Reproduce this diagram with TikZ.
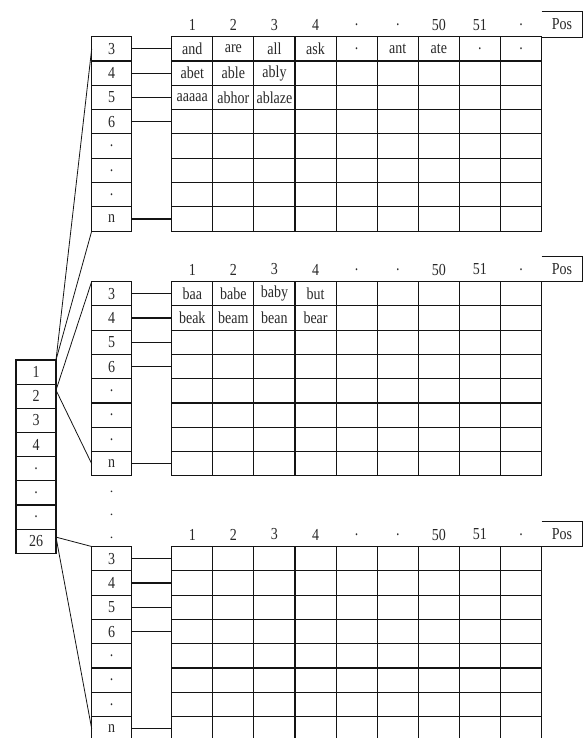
\documentclass[tikz,border=0pt]{standalone}
\usepackage{fontspec}
\setmainfont{Liberation Serif}
\usepackage{graphicx}
\usetikzlibrary{positioning,calc}
\definecolor{gridline}{RGB}{20,20,20}
\definecolor{celltext}{RGB}{40,40,40}
\newcommand{\tallword}[1]{\scalebox{1}[1.2]{#1}}

\tikzset{
  cell/.style={draw=gridline, line width=1.1pt, minimum height=24.3pt,
    inner sep=0pt, outer sep=0pt, text=celltext, anchor=north west,
    font=\fontsize{14}{14}\selectfont},
  idx/.style={cell, minimum width=40pt},
  wordcell/.style={cell, minimum width=41.1pt},
  head/.style={text=celltext, inner sep=0pt, font=\fontsize{14}{14}\selectfont},
  posbox/.style={head, minimum width=40pt, minimum height=25pt, anchor=north west},
  link/.style={draw=gridline, line width=1.1pt},
  fan/.style={draw=gridline, line width=0.8pt}
}

\begin{document}
\begin{tikzpicture}[x=1pt, y=-1pt]
  \useasboundingbox (0,0) rectangle (583,738);
  \clip (0,0) rectangle (583,738);

  % Letter column
  \foreach \lab [count=\i] in {1,2,3,4,.,.,.,26}
    \node[idx] (M-\i) at (16, {360+(\i-1)*24.16}) {\tallword{\lab}};

  % One block per letter: length column, word table, headers
  \foreach \blk/\top in {A/36.7, B/281.5, C/546.5} {
    \foreach \lab [count=\i] in {3,4,5,6,.,.,.,n}
      \node[idx] (\blk-\i) at (91.7, {\top+(\i-1)*24.3}) {\tallword{\lab}};
    \foreach \r in {1,...,8}
      \foreach \c in {1,...,9}
        \node[wordcell] (\blk-\r-\c) at ({171.7+(\c-1)*41.1}, {\top+(\r-1)*24.3}) {};
    \foreach \h [count=\c] in {1,2,3,4,.,.,50,51,.}
      \node[head] (\blk-h\c) at ({171.7+(\c-0.5)*41.1}, {\top-12}) {\tallword{\h}};
    \node[posbox] (\blk-pos) at (541.7, {\top-25}) {\tallword{Pos}};
    \draw[link] (\blk-pos.north west) -- (\blk-pos.north east)
      -- (\blk-pos.south east) -- (\blk-pos.south west);
    % length -> row
    \foreach \i in {1,2,3,4,8}
      \draw[link] (\blk-\i.east) -- (\blk-\i-1.west);
  }

  % Words
  \foreach \blk/\r/\c/\w in {A/1/1/and, A/1/2/are, A/1/3/all, A/1/4/ask,
      A/1/5/., A/1/6/ant, A/1/7/ate, A/1/8/., A/1/9/.,
      A/2/1/abet, A/2/2/able, A/2/3/ably,
      A/3/1/aaaaa, A/3/2/abhor, A/3/3/ablaze,
      B/1/1/baa, B/1/2/babe, B/1/3/baby, B/1/4/but,
      B/2/1/beak, B/2/2/beam, B/2/3/bean, B/2/4/bear}
    \node[head] (w\blk-\r-\c) at (\blk-\r-\c) {\tallword{\w}};

  % Fan from letter to block
  \draw[fan] (M-1.north east) -- (A-1.west);
  \draw[fan] (M-1.north east) -- (A-8.south west);
  \coordinate (m2) at ([yshift=-6pt]M-2.north east);
  \draw[fan] (m2) -- (B-1.north west);
  \draw[fan] (m2) -- (B-8.west);
  \coordinate (m26) at ([yshift=-8pt]M-8.north east);
  \draw[fan] (m26) -- (C-1.north west);
  \draw[fan] (m26) -- (C-8.west);

  % Gap dots
  \foreach \d [count=\k] in {491.7,515,538.3}
    \node[head] (gap-\k) at (111.7,\d) {.};
\end{tikzpicture}
\end{document}
